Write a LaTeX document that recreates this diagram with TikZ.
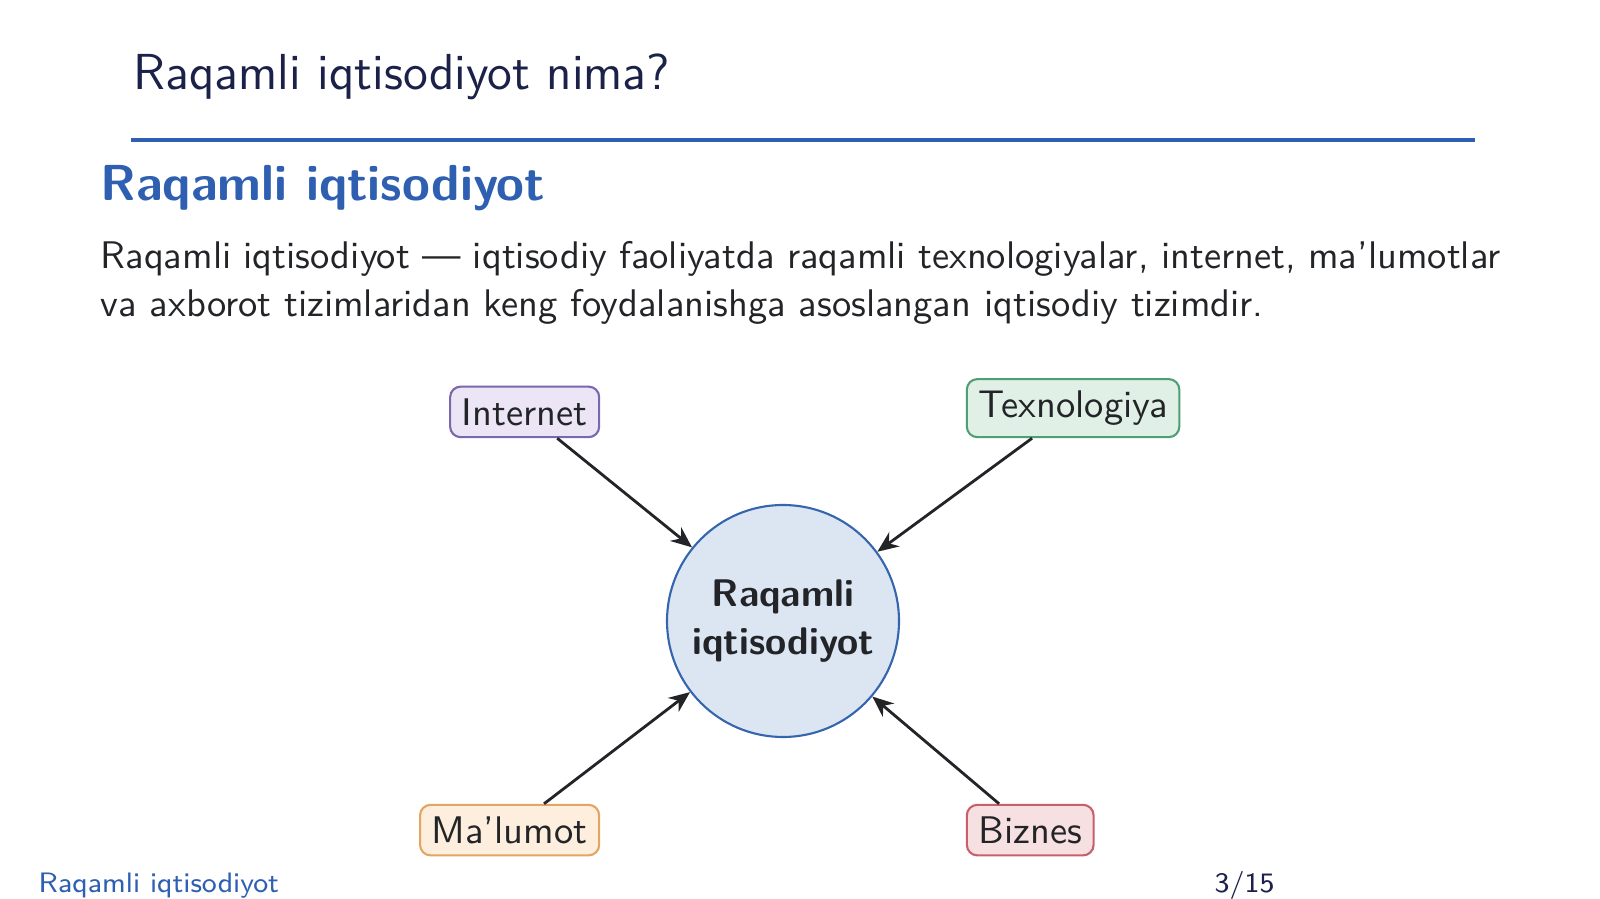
\documentclass[tikz,border=0pt]{standalone}
\usepackage{fontspec}
\usetikzlibrary{positioning,arrows.meta}
\definecolor{navy}{HTML}{1B2148}
\definecolor{struct}{HTML}{2E5FB0}
\definecolor{ink}{HTML}{222428}
\definecolor{hubfill}{HTML}{DCE6F3}
\definecolor{hubdraw}{HTML}{3565AD}
\definecolor{inetfill}{HTML}{EBE5F6}
\definecolor{inetdraw}{HTML}{7B67AE}
\definecolor{techfill}{HTML}{E0F0E6}
\definecolor{techdraw}{HTML}{4F9F76}
\definecolor{datafill}{HTML}{FDEEDD}
\definecolor{datadraw}{HTML}{E3A560}
\definecolor{bizfill}{HTML}{F7E0E1}
\definecolor{bizdraw}{HTML}{C8606B}
\newcommand{\nsize}{\fontsize{10.95}{13.6}\selectfont}
\newcommand{\tsize}{\fontsize{14.4}{18}\selectfont}
\begin{document}
\sffamily
\begin{tikzpicture}[>={Stealth[length=6pt,width=5pt]},node distance=1cm and 1cm,
  box/.style={draw,semithick,rounded corners=3pt,font=\nsize,text=ink},
  hub/.style={circle,draw=hubdraw,fill=hubfill,semithick,minimum size=2.32cm,
    align=center,font=\nsize\bfseries,text=ink,inner sep=0},
  arr/.style={->,thick,ink}]
\useasboundingbox (0,0) rectangle (16,-8.99);

% frame title and rule
\node[anchor=base west,inner sep=0,text=navy,font=\tsize] (title) at (1.33,-0.90) {Raqamli iqtisodiyot nima?};
\draw[struct,line width=1.2pt] (1.31,-1.40) -- (14.75,-1.40);

% heading and text
\node[anchor=base west,inner sep=0,text=struct,font=\tsize\bfseries] (head) at (1.00,-2.01) {Raqamli iqtisodiyot};
\node[anchor=north west,inner sep=0,text width=14cm,align=justify,font=\nsize,text=ink] (body) at (1.00,-2.41)
  {Raqamli iqtisodiyot — iqtisodiy faoliyatda raqamli texnologiyalar, internet, ma’lumotlar\linebreak
   va axborot tizimlaridan keng foydalanishga asoslangan iqtisodiy tizimdir.};

% diagram
\node[hub] (c) at (7.83,-6.21) {Raqamli\\iqtisodiyot};
\node[box,fill=inetfill,draw=inetdraw,above left=of c] (inet) {Internet};
\node[box,fill=techfill,draw=techdraw,above right=of c] (tech) {Texnologiya};
\node[box,fill=datafill,draw=datadraw,below left=of c] (data) {Ma’lumot};
\node[box,fill=bizfill,draw=bizdraw,below right=of c] (biz) {Biznes};
\foreach \n in {inet,tech,data,biz}
  \draw[arr] (\n) -- (c);

% footline
\node[anchor=base west,inner sep=0,text=struct,font=\fontsize{8}{10}\selectfont] (foot) at (0.38,-8.93) {Raqamli iqtisodiyot};
\node[anchor=base west,inner sep=0,text=navy,font=\fontsize{8}{10}\selectfont] (page) at (12.14,-8.93) {3/15};
\end{tikzpicture}
\end{document}
